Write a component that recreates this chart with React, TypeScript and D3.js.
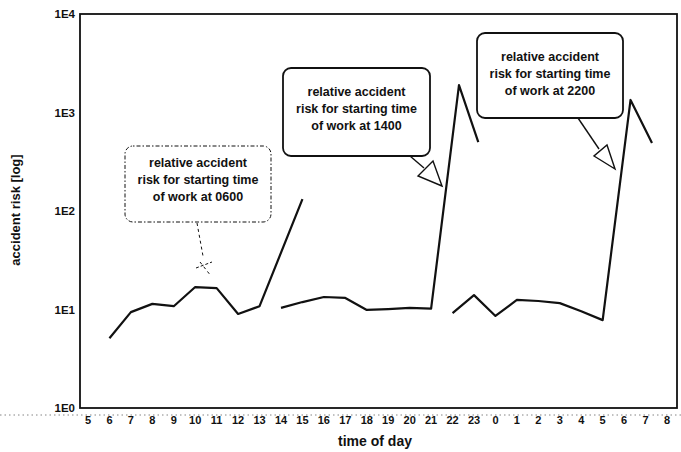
import React from 'react';
import * as d3 from 'd3';

// x axis: hours of the day, starting at 05:00
const hourLabels = ['5', '6', '7', '8', '9', '10', '11', '12', '13', '14', '15', '16', '17', '18', '19', '20', '21', '22', '23', '0', '1', '2', '3', '4', '5', '6', '7', '8'];

// y axis: log decades
const riskTicks = [1, 10, 100, 1000, 10000];
const riskTickLabels = ['1E0', '1E1', '1E2', '1E3', '1E4'];

// position on the time axis (hours after 05:00) and relative risk, per starting time
const start0600Pos = [1, 2, 3, 4, 5, 6, 7, 8, 10];
const start0600Risk = [5.1, 9.4, 11.4, 10.8, 16.9, 16.5, 9.0, 10.8, 132];

const start1400Pos = [9, 10, 11, 12, 13, 14, 15, 16, 17.3, 18.2];
const start1400Risk = [10.4, 11.9, 13.4, 13.1, 9.9, 10.1, 10.4, 10.2, 1900, 500];

const start2200Pos = [17, 18, 19, 20, 21, 22, 23, 24, 25.3, 26.3];
const start2200Risk = [9.2, 14.0, 8.6, 12.5, 12.2, 11.6, 9.6, 7.8, 1340, 490];

const W = 681;
const H = 452;
const left = 80, right = 677, top = 14, bottom = 408;

const font = 'Liberation Sans, Arial, sans-serif';

const App: React.FC = () => {
  const xScale = d3.scaleLinear().domain([0, 27]).range([88, 667]);
  const yScale = d3.scaleLog().domain([1, 10000]).range([bottom, top]);

  const line = d3.line<[number, number]>()
    .x(d => xScale(d[0]))
    .y(d => yScale(d[1]));

  const series = [
    d3.zip(start0600Pos, start0600Risk) as [number, number][],
    d3.zip(start1400Pos, start1400Risk) as [number, number][],
    d3.zip(start2200Pos, start2200Risk) as [number, number][],
  ];

  const bold = { fontFamily: font, fontWeight: 'bold' as const, fill: '#111' };

  const callout = (x: number, y: number, w: number, h: number, firstLine: number, lines: string[], dashed: boolean) => (
    <g>
      <rect x={x} y={y} width={w} height={h} rx={8} ry={8} fill="white"
        stroke="#111" strokeWidth={dashed ? 1 : 1.8}
        strokeDasharray={dashed ? '1.5,2,4,2' : undefined} />
      {lines.map((t, i) => (
        <text key={i} x={x + w / 2} y={y + firstLine + i * 17} textAnchor="middle" fontSize={12.5} {...bold}>{t}</text>
      ))}
    </g>
  );

  return (
    <svg width={W} height={H} style={{ position: 'absolute', left: 0, top: 0, background: 'white' }}>
      {/* frame */}
      <rect x={left} y={top} width={right - left} height={bottom - top} fill="none" stroke="#111" strokeWidth={1.8} />

      {/* y ticks */}
      {riskTicks.map((t, i) => (
        <text key={t} x={left - 5} y={yScale(t) + 4} textAnchor="end" fontSize={11.5} {...bold}>{riskTickLabels[i]}</text>
      ))}

      {/* dotted baseline for the time labels */}
      <line x1={0} x2={W} y1={415} y2={415} stroke="#666" strokeWidth={0.8} strokeDasharray="1.5,3" />
      {hourLabels.map((l, i) => (
        <text key={i} x={xScale(i)} y={424} textAnchor="middle" fontSize={11} {...bold}>{l}</text>
      ))}

      {/* axis titles */}
      <text x={375} y={446} textAnchor="middle" fontSize={14} {...bold}>time of day</text>
      <text transform={`translate(20,${210}) rotate(-90)`} textAnchor="middle" fontSize={13} {...bold}>accident risk [log]</text>

      {/* risk curves */}
      {series.map((s, i) => (
        <path key={i} d={line(s) ?? ''} fill="none" stroke="#111" strokeWidth={2.2} strokeLinejoin="round" />
      ))}

      {/* callouts */}
      {callout(125, 146, 146, 76, 21, ['relative accident', 'risk for starting time', 'of work at 0600'], true)}
      <path d="M197,223 L203,256 M200,262 L211,276" fill="none" stroke="#111" strokeWidth={1} strokeDasharray="3,3" />
      <path d="M196,268 L212,262" fill="none" stroke="#111" strokeWidth={1} strokeDasharray="3,2" />

      {callout(283, 68, 147, 88, 28, ['relative accident', 'risk for starting time', 'of work at 1400'], false)}
      <path d="M410,156 L424,168" fill="none" stroke="#111" strokeWidth={1.4} />
      <path d="M442,186 L418,176 L433,161 Z" fill="white" stroke="#111" strokeWidth={1.4} />

      {callout(477, 33, 146, 85, 28, ['relative accident', 'risk for starting time', 'of work at 2200'], false)}
      <path d="M578,118 L599,149" fill="none" stroke="#111" strokeWidth={1.4} />
      <path d="M615,169 L594,156 L607,145 Z" fill="white" stroke="#111" strokeWidth={1.4} />
    </svg>
  );
};

export default App;
